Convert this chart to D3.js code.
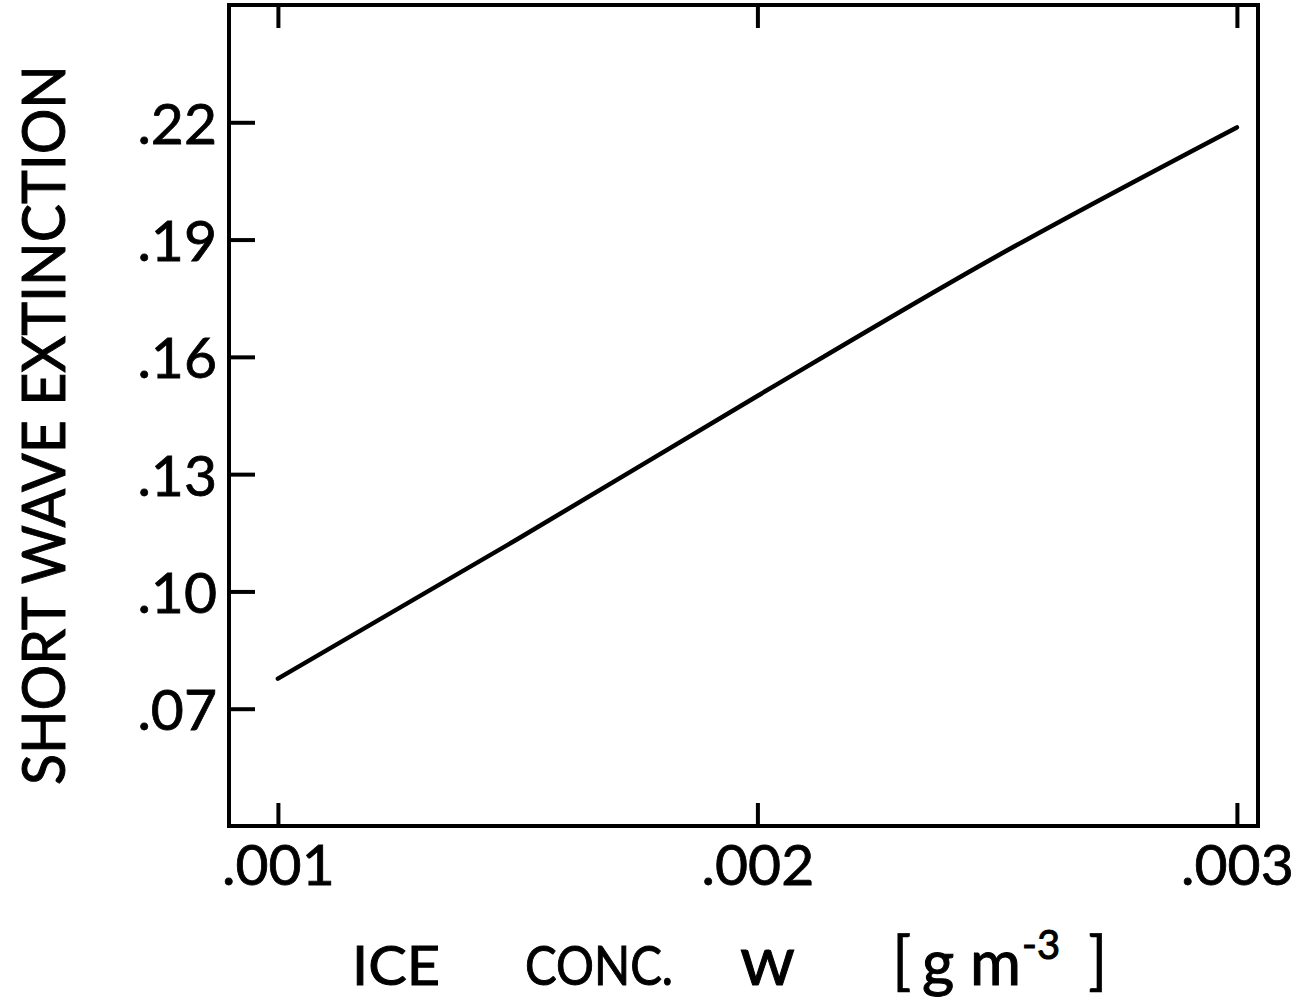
<!DOCTYPE html>
<html>
<head>
<meta charset="utf-8">
<script src="https://cdn.jsdelivr.net/npm/d3@7"></script>
<style>
  body { margin: 0; background: #fff; }
  text { font-family: Lato, "DejaVu Sans", sans-serif; fill: #000; }
</style>
</head>
<body>
<script>
// data
var iceConc = [0.001, 0.0015, 0.002, 0.0025, 0.003];
var extinction = [0.0777, 0.1134, 0.150, 0.1858, 0.2187];
var xTicks = [0.001, 0.002, 0.003];
var yTicks = [0.07, 0.10, 0.13, 0.16, 0.19, 0.22];

var W = 1303, H = 1001;
var plotL = 229, plotR = 1258, plotT = 5, plotB = 826;

var svg = d3.select("body").append("svg")
  .attr("width", W)
  .attr("height", H);

var x = d3.scaleLinear()
  .domain([0.000898, 0.003044])
  .range([plotL, plotR]);
var y = d3.scaleLinear()
  .domain([0.04, 0.25])
  .range([plotB, plotT]);

var fmt = function (d) { return d3.format(d < 0.01 ? ".3f" : ".2f")(d).replace(/^0/, ""); };

// bottom axis, ticks pointing inward
var xb = svg.append("g")
  .attr("transform", "translate(0," + plotB + ")")
  .call(d3.axisBottom(x).tickValues(xTicks).tickFormat(fmt)
    .tickSizeInner(-23).tickSizeOuter(0).tickPadding(19));

// top axis, ticks only
var xt = svg.append("g")
  .attr("transform", "translate(0," + plotT + ")")
  .call(d3.axisTop(x).tickValues(xTicks).tickFormat("")
    .tickSizeInner(-23).tickSizeOuter(0));

// left axis
var yl = svg.append("g")
  .attr("transform", "translate(" + plotL + ",0)")
  .call(d3.axisLeft(y).tickValues(yTicks).tickFormat(fmt)
    .tickSizeInner(-26).tickSizeOuter(0).tickPadding(12));

[xb, xt, yl].forEach(function (g) {
  g.select(".domain").remove();
  g.selectAll(".tick line").attr("stroke", "#000").attr("stroke-width", 4);
  g.selectAll("text")
    .attr("font-size", 57)
    .attr("fill", "#000")
    .attr("stroke", "#000")
    .attr("stroke-width", 0.8);
});
yl.selectAll("text").attr("dy", "0.37em");

// frame
svg.append("rect")
  .attr("x", plotL).attr("y", plotT)
  .attr("width", plotR - plotL).attr("height", plotB - plotT)
  .attr("fill", "none")
  .attr("stroke", "#000")
  .attr("stroke-width", 4);

// curve
var line = d3.line()
  .x(function (d, i) { return x(iceConc[i]); })
  .y(function (d) { return y(d); })
  .curve(d3.curveMonotoneX);

svg.append("path")
  .datum(extinction)
  .attr("d", line)
  .attr("fill", "none")
  .attr("stroke", "#000")
  .attr("stroke-width", 4.5)
  .attr("stroke-linecap", "round");

// y label
svg.append("text")
  .attr("transform", "translate(65,425) rotate(-90)")
  .attr("text-anchor", "middle")
  .attr("font-size", 60)
  .attr("stroke", "#000")
  .attr("stroke-width", 1)
  .attr("textLength", 720)
  .attr("lengthAdjust", "spacingAndGlyphs")
  .text("SHORT WAVE EXTINCTION");

// x label
var xl = svg.append("g")
  .attr("font-size", 54)
  .attr("stroke", "#000")
  .attr("stroke-width", 1);
xl.append("text").attr("x", 352).attr("y", 985)
  .attr("textLength", 88).attr("lengthAdjust", "spacingAndGlyphs").text("ICE");
xl.append("text").attr("x", 525).attr("y", 985)
  .attr("textLength", 148).attr("lengthAdjust", "spacingAndGlyphs").text("CONC.");
xl.append("text").attr("x", 740).attr("y", 985).attr("font-size", 70).text("w");
xl.append("text").attr("x", 892).attr("y", 983).attr("font-size", 64).attr("stroke-width", 0.5).text("[");
var unit = xl.append("text").attr("x", 922).attr("y", 985).attr("font-size", 62);
unit.append("tspan").text("g m");
unit.append("tspan").attr("font-size", 40).attr("dy", -26).attr("dx", 1).text("-3");
xl.append("text").attr("x", 1088).attr("y", 983).attr("font-size", 64).attr("stroke-width", 0.5).text("]");
</script>
</body>
</html>
